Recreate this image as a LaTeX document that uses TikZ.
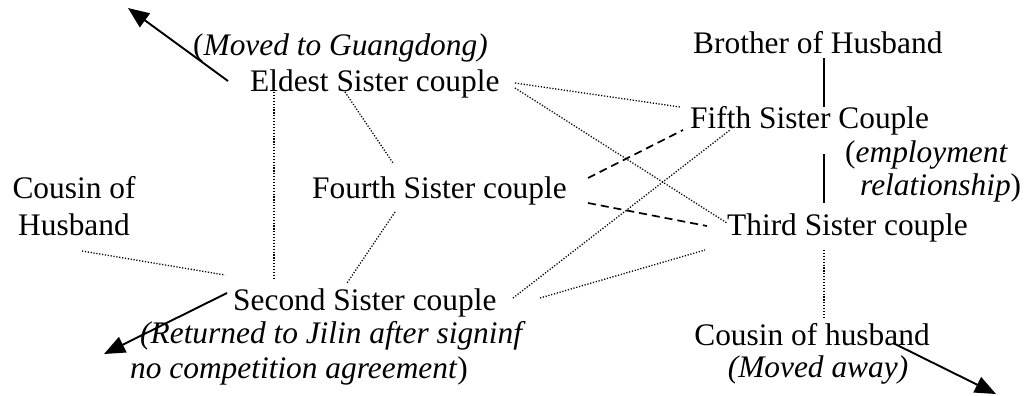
\documentclass[tikz,border=0pt]{standalone}
\usepackage{fontspec}
\setmainfont{Liberation Serif}
\usetikzlibrary{arrows.meta}
\begin{document}
\begin{tikzpicture}[x=1bp,y=-1bp,
  lbl/.style={anchor=base west,inner sep=0pt,font=\fontsize{31.5}{36}\selectfont},
  lblc/.style={anchor=base,inner sep=0pt,font=\fontsize{31.5}{36}\selectfont},
  kin/.style={line width=1.3bp,dash pattern=on 1.2bp off 1.7bp},
  tie/.style={line width=1.7bp,dash pattern=on 8bp off 5bp},
  bond/.style={line width=1.8bp},
  move/.style={line width=1.9bp,-{Triangle[length=21bp,width=17bp]}}]
\useasboundingbox (0,0) rectangle (1026,395);

% family members
\node[lbl] (moved)   at (193,55)  {(\textit{Moved to Guangdong)}};
\node[lbl] (eldest)  at (250,91)  {Eldest Sister couple};
\node[lbl] (brother) at (693,53)  {Brother of Husband};
\node[lbl] (fifth)   at (690,128) {Fifth Sister Couple};
\node[lbl] (empA)    at (845,162) {(\textit{employment}};
\node[lbl] (empB)    at (860,195) {\textit{relationship})};
\node[lblc] (cousA)  at (74,198)  {Cousin of};
\node[lblc] (cousB)  at (74,235)  {Husband};
\node[lbl] (fourth)  at (312,198) {Fourth Sister couple};
\node[lbl] (third)   at (727,235) {Third Sister couple};
\node[lbl] (second)  at (233,310) {Second Sister couple};
\node[lbl] (retA)    at (140,343) {\textit{(Returned to Jilin after signinf}};
\node[lbl] (retB)    at (130,378) {\textit{no competition agreement})};
\node[lblc] (cohA)   at (812,345) {Cousin of husband};
\node[lblc] (cohB)   at (818,377) {\textit{(Moved away)}};

% connector end points
\coordinate (eS)  at (228,81);   \coordinate (eT)  at (128,8);
\coordinate (sS)  at (227,293);  \coordinate (sT)  at (104,354);
\coordinate (hS)  at (893,343);  \coordinate (hT)  at (996,394);
\coordinate (e1)  at (274,92);   \coordinate (s1)  at (274,280);
\coordinate (e2)  at (345,92);   \coordinate (f2)  at (393,163);
\coordinate (f3)  at (395,212);  \coordinate (s3)  at (347,283);
\coordinate (c4)  at (82,251);   \coordinate (s4)  at (225,275);
\coordinate (e5)  at (515,83);   \coordinate (v5)  at (680,107);
\coordinate (e6)  at (515,88);   \coordinate (t6)  at (727,223);
\coordinate (s7)  at (513,298);  \coordinate (v7)  at (730,130);
\coordinate (s8)  at (540,298);  \coordinate (t8)  at (705,250);
\coordinate (t9)  at (824,250);  \coordinate (h9)  at (824,319);
\coordinate (f10) at (588,178);  \coordinate (v10) at (683,130);
\coordinate (f11) at (588,203);  \coordinate (t11) at (707,226);
\coordinate (b12) at (824,58);   \coordinate (v12) at (824,107);
\coordinate (v13) at (824,154);  \coordinate (t13) at (824,203);

% moves away
\draw[move] (eS) -- (eT);
\draw[move] (sS) -- (sT);
\draw[move] (hS) -- (hT);

% kinship ties
\draw[kin] (e1) -- (s1);
\draw[kin] (e2) -- (f2);
\draw[kin] (f3) -- (s3);
\draw[kin] (c4) -- (s4);
\draw[kin] (e5) -- (v5);
\draw[kin] (e6) -- (t6);
\draw[kin] (s7) -- (v7);
\draw[kin] (s8) -- (t8);
\draw[kin] (t9) -- (h9);

% business ties
\draw[tie] (f10) -- (v10);
\draw[tie] (f11) -- (t11);

% close ties
\draw[bond] (b12) -- (v12);
\draw[bond] (v13) -- (t13);
\end{tikzpicture}
\end{document}
